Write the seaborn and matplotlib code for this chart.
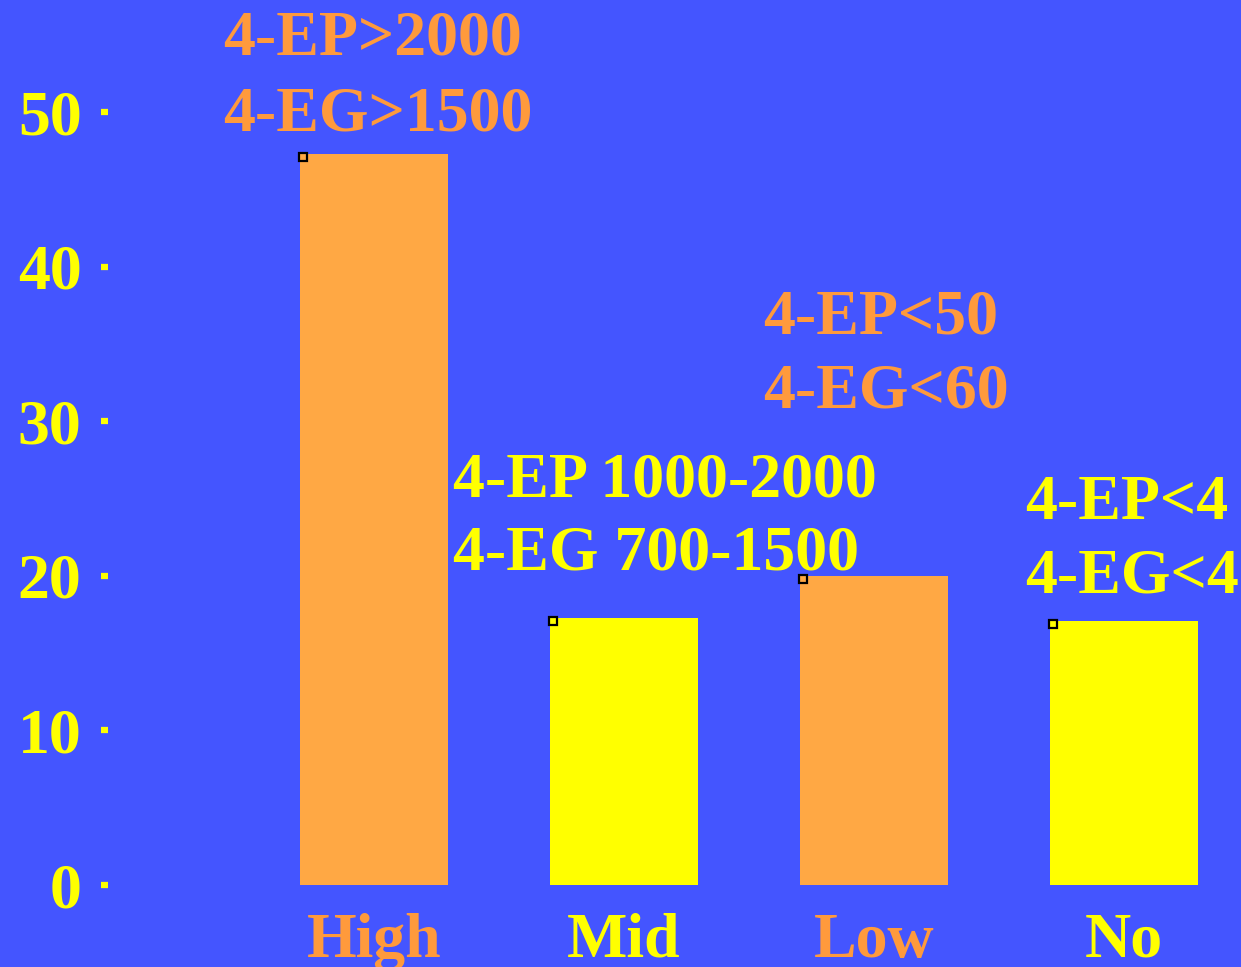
import matplotlib
matplotlib.use("Agg")
import matplotlib.pyplot as plt
import seaborn as sns
import pandas as pd

# Data
categories = ["High", "Mid", "Low", "No"]
values = [47.3, 17.3, 20.0, 17.1]
bar_colors = ["#FFA844", "#FFFF00", "#FFA844", "#FFFF00"]
label_colors = ["#FF9A3C", "#FFFF00", "#FF9A3C", "#FFFF00"]
annotations = [
    ("4-EP>2000", "4-EG>1500"),
    ("4-EP 1000-2000", "4-EG 700-1500"),
    ("4-EP<50", "4-EG<60"),
    ("4-EP<4", "4-EG<4"),
]
y_ticks = [0, 10, 20, 30, 40, 50]

BG = "#4455FF"
YELLOW = "#FFFF00"
FONT = "Liberation Serif"

sns.set_theme(style="white")
plt.rcParams["font.family"] = [FONT, "DejaVu Serif"]

fig = plt.figure(figsize=(12.41, 9.67), dpi=100, facecolor=BG)
ax = fig.add_axes([108 / 1241, 82 / 967, 1 - 108 / 1241, 1 - 82 / 967])
ax.set_facecolor(BG)

df = pd.DataFrame({"cat": categories, "val": values})
sns.barplot(data=df, x="cat", y="val", hue="cat", palette=bar_colors,
            order=categories, hue_order=categories, legend=False,
            width=0.59, saturation=1, linewidth=0, ax=ax)

ax.set_xlim(-1.064, 3.468)
ax.set_ylim(0, 57.25)

for s in ax.spines.values():
    s.set_visible(False)

# y axis: bold serif labels with small square tick dots
ax.set_yticks(y_ticks)
ax.set_yticklabels([str(t) for t in y_ticks])
ax.tick_params(axis="y", left=True, direction="out", length=5, width=4.5,
               color=YELLOW, pad=14, labelsize=46, labelcolor=YELLOW)
for lab in ax.get_yticklabels():
    lab.set_fontweight("bold")

# x axis: category labels colored like their bars
ax.set_xticks(range(len(categories)))
ax.set_xticklabels(categories)
ax.tick_params(axis="x", bottom=False, length=0, pad=20, labelsize=46)
for lab, c in zip(ax.get_xticklabels(), label_colors):
    lab.set_color(c)
    lab.set_fontweight("bold")
ax.set_xlabel("")
ax.set_ylabel("")

# small square marker at the top-left corner of each bar
for p, c in zip(ax.patches, bar_colors):
    ax.plot(p.get_x() + 0.012, p.get_height() - 0.2, marker="s",
            markersize=5.5, markerfacecolor=c, markeredgecolor="black",
            markeredgewidth=1.6, clip_on=False, zorder=5)

# two-line labels above the bars (x offset from bar center, baselines in data units)
text_layout = [
    (-0.604, 53.7, 48.8),
    (-0.684, 25.1, 20.4),
    (-0.444, 35.7, 30.9),
    (-0.396, 23.7, 18.95),
]
for i, ((l1, l2), (dx, y1, y2), c) in enumerate(zip(annotations, text_layout, label_colors)):
    for txt, yy in ((l1, y1), (l2, y2)):
        ax.text(i + dx, yy, txt, color=c, fontsize=46, fontweight="bold",
                ha="left", va="baseline", clip_on=False)

fig.savefig("out.png", dpi=100, facecolor=BG)
